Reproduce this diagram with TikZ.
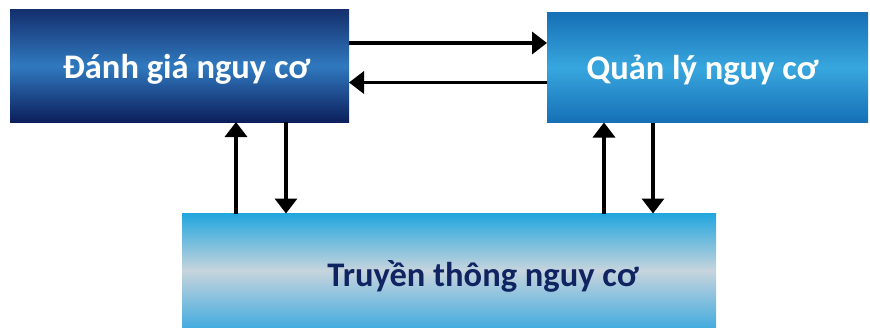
\documentclass[tikz,border=0pt]{standalone}
\usepackage{fontspec}
\setmainfont{Carlito}
\usetikzlibrary{arrows.meta,calc}
\definecolor{navyTop}{HTML}{14306E}
\definecolor{navyMid}{HTML}{3079BF}
\definecolor{navyBot}{HTML}{0C1F5C}
\definecolor{skyTop}{HTML}{1670B5}
\definecolor{skyMid}{HTML}{38A6DE}
\definecolor{skyBot}{HTML}{1570B6}
\definecolor{paleTop}{HTML}{22A6DE}
\definecolor{paleMid}{HTML}{C6D4DD}
\definecolor{paleBot}{HTML}{45ACDF}
\definecolor{textNavy}{HTML}{0F2461}
\tikzset{
  x=1pt,y=1pt,
  box/.style={rectangle,inner sep=0pt,outer sep=0pt,anchor=north west},
  lbl/.style={font=\bfseries\fontsize{34.5}{38}\selectfont,inner sep=0pt},
  arr/.style={line width=3.5pt,-{Triangle[length=15pt,width=22pt]}},
}
\begin{document}
\begin{tikzpicture}
\useasboundingbox (0,0) rectangle (870,-329);
\node[box,minimum width=339pt,minimum height=112pt,
  top color=navyTop,bottom color=navyBot,middle color=navyMid] (A) at (10,-10) {};
\node[box,minimum width=321pt,minimum height=110pt,
  top color=skyTop,bottom color=skyBot,middle color=skyMid] (B) at (547,-12.5) {};
\node[box,minimum width=534pt,minimum height=114pt,
  top color=paleTop,bottom color=paleBot,middle color=paleMid] (C) at (182,-213.5) {};
\node[lbl,text=white] (tA) at ($(A.center)+(7,-3)$) {Đánh giá nguy cơ};
\node[lbl,text=white] (tB) at ($(B.center)+(-5,-3)$) {Quản lý nguy cơ};
\node[lbl,text=textNavy] (tC) at ($(C.center)+(34,-6)$) {Truyền thông nguy cơ};
\draw[arr] (A.east |- 0,-43) -- (B.west |- 0,-43);
\draw[arr] (B.west |- 0,-82.5) -- (A.east |- 0,-82.5);
\draw[arr] (C.north -| 236,0) -- (A.south -| 236,0);
\draw[arr] (A.south -| 286,0) -- (C.north -| 286,0);
\draw[arr] (C.north -| 604,0) -- (B.south -| 604,0);
\draw[arr] (B.south -| 653,0) -- (C.north -| 653,0);
\end{tikzpicture}
\end{document}
